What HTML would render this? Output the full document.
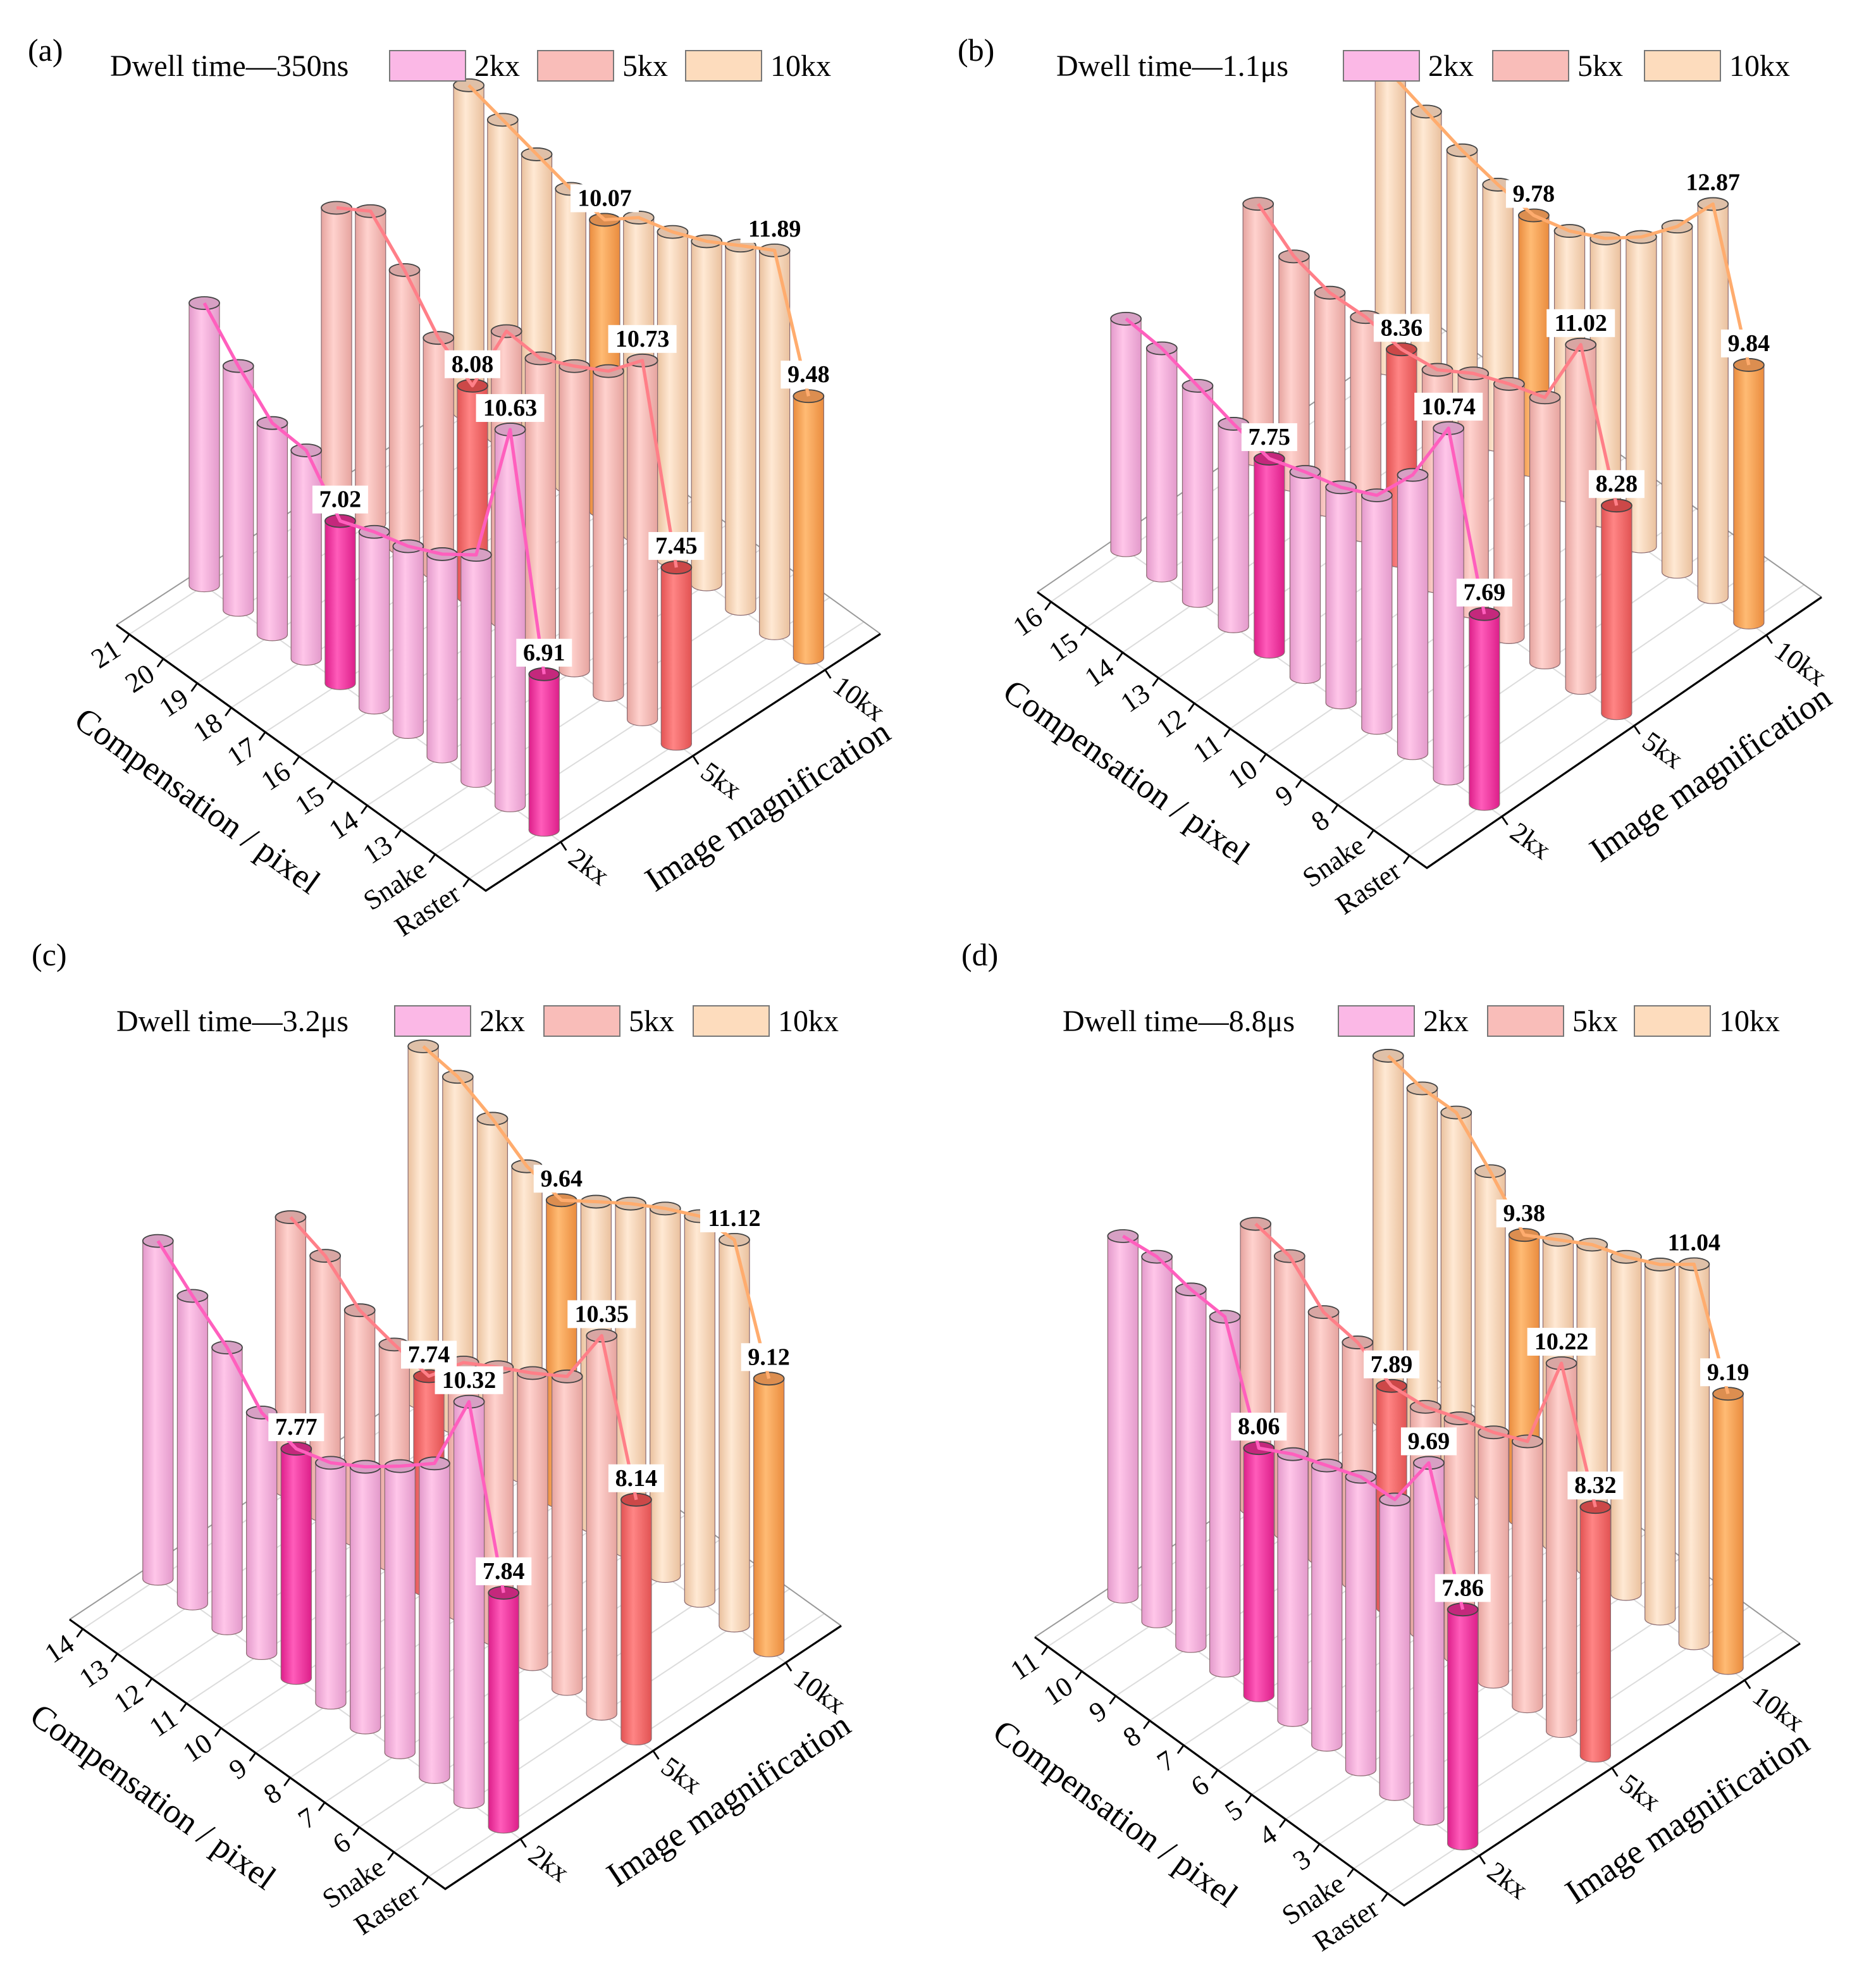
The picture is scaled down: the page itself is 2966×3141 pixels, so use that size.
<!DOCTYPE html>
<html><head><meta charset="utf-8"><style>
html,body{margin:0;padding:0;background:#fff;}
svg{display:block;font-family:"Liberation Serif",serif;}
svg text{font-family:"Liberation Serif",serif !important;}
</style></head><body>
<svg id="chart" xmlns="http://www.w3.org/2000/svg" width="2966" height="3141" viewBox="0 0 1483 1570.5">
<defs id="defs"></defs>
</svg>
<script>
const magCategories = ['2kx','5kx','10kx'];
const compTicksA = ['21','20','19','18','17','16','15','14','13','Snake','Raster'];
const compTicksB = ['16','15','14','13','12','11','10','9','8','Snake','Raster'];
const compTicksC = ['14','13','12','11','10','9','8','7','6','Snake','Raster'];
const compTicksD = ['11','10','9','8','7','6','5','4','3','Snake','Raster'];
const dwellLabels = ['350ns','1.1μs','3.2μs','8.8μs'];
const valsA2k = [9.05,8.40,7.85,7.80,7.02,7.25,7.42,7.70,8.10,10.63,6.91];
const valsA5k = [9.52,9.90,9.28,8.50,8.08,9.50,9.45,9.75,10.10,10.73,7.45];
const valsA10k = [10.8,10.6,10.4,10.2,10.07,10.6,10.8,11.1,11.5,11.89,9.48];
const valsB2k = [8.48,8.40,8.17,7.93,7.75,7.98,8.17,8.50,9.37,10.74,7.69];
const valsB5k = [9.25,8.70,8.48,8.50,8.36,8.46,8.90,9.20,9.44,11.02,8.28];
const valsB10k = [10.7,10.4,10.1,9.9,9.78,10.0,10.4,11.0,11.8,12.87,9.84];
const valsC2k = [9.39,8.94,8.54,7.94,7.77,7.93,8.24,8.62,9.03,10.32,7.84];
const valsC5k = [8.69,8.47,8.00,7.85,7.74,8.35,8.67,8.97,9.31,10.35,8.14];
const valsC10k = [10.6,10.5,10.2,9.8,9.64,10.05,10.45,10.8,11.1,11.12,9.12];
const valsD2k = [9.76,9.82,9.70,9.66,8.06,8.34,8.54,8.74,8.77,9.69,7.86];
const valsD5k = [8.90,8.78,8.28,8.19,7.89,7.95,8.16,8.33,8.58,10.22,8.32];
const valsD10k = [10.8,10.66,10.67,10.07,9.38,9.73,10.08,10.3,10.6,11.04,9.19];
const labeledIdx = [4,9,10];
const highlightIdx = [4,10];

const NS='http://www.w3.org/2000/svg';
const svg=document.getElementById('chart');
const defs=document.getElementById('defs');
function mk(tag,attrs,parent){const e=document.createElementNS(NS,tag);for(const k in attrs)e.setAttribute(k,attrs[k]);if(tag==='text')e.setAttribute('style','font-family:"Liberation Serif",serif');(parent||svg).appendChild(e);return e;}

const palette={
 n0:['#ffc6e9','#e39acb','#d7a0c4'],h0:['#ff5cba','#dd1f8a','#c4287c'],
 n1:['#ffd2ce','#e6a49f','#d8a6a3'],h1:['#ff8585','#e25353','#cc4848'],
 n2:['#ffe9d4','#eac19e','#dfc0a8'],h2:['#ffbb74','#ea8c3e','#dc8e50']};
for(const k in palette){
 const g=mk('linearGradient',{id:'g-'+k,x1:'0',x2:'1',y1:'0',y2:'0'},defs);
 mk('stop',{offset:'0','stop-color':palette[k][1]},g);
 mk('stop',{offset:'0.4','stop-color':palette[k][0]},g);
 mk('stop',{offset:'1','stop-color':palette[k][1]},g);
}
const lineColors=['#ff5fbd','#ff7f88','#ffac6e'];
const swatch=['#fbb8e6','#f9bdb9','#fddcbd'];
const rowScale=[1,0.94,0.85];

const panels=[
 {letter:'(a)',lp:[22,48],legX:87,legY:60,boxes:[308,425,542],ticks:compTicksA,vals:[valsA2k,valsA5k,valsA10k],P0:[92,494],C:[384,704],M1:[696,501],k:46.8,z0:4.28,r:12},
 {letter:'(b)',lp:[757,48],legX:835,legY:60,boxes:[1062,1180,1300],ticks:compTicksB,vals:[valsB2k,valsB5k,valsB10k],P0:[820,468],C:[1128,686],M1:[1440,472],k:41.6,z0:4.08,r:12},
 {letter:'(c)',lp:[25,763],legX:92,legY:815,boxes:[312,430,548],ticks:compTicksC,vals:[valsC2k,valsC5k,valsC10k],P0:[55,1280],C:[352,1493],M1:[665,1285],k:53,z0:4.35,r:12},
 {letter:'(d)',lp:[760,763],legX:840,legY:815,boxes:[1058,1176,1292],ticks:compTicksD,vals:[valsD2k,valsD5k,valsD10k],P0:[818,1294],C:[1110,1506],M1:[1423,1299],k:52.7,z0:4.35,r:12}
];

function fsOf(s){return 0.035+0.092*s;}
function fmOf(t){return 0.19+0.335*t;}
function floorPt(p,fs,fm){
 return [p.C[0]+(p.P0[0]-p.C[0])*(1-fs)+(p.M1[0]-p.C[0])*fm, p.C[1]+(p.P0[1]-p.C[1])*(1-fs)+(p.M1[1]-p.C[1])*fm];}
function baseXY(p,s,t){return floorPt(p,fsOf(s),fmOf(t));}
function topY(p,base,v,t){return base[1]-(v-p.z0)*p.k*rowScale[t];}

panels.forEach((p,pi)=>{
 const g=mk('g',{});
 
 
 const fl=mk('g',{},g);
 
 
 const mv=[p.M1[0]-p.C[0],p.M1[1]-p.C[1]], cv=[p.P0[0]-p.C[0],p.P0[1]-p.C[1]];
 p.ticks.forEach((tk,s)=>{
  const a=floorPt(p,fsOf(s),0);
  mk('line',{x1:a[0],y1:a[1],x2:a[0]+mv[0],y2:a[1]+mv[1],stroke:'#dcdcdc','stroke-width':1},fl);
 });
 magCategories.forEach((m,t)=>{
  const a=floorPt(p,1,fmOf(t));
  mk('line',{x1:a[0],y1:a[1],x2:a[0]+cv[0],y2:a[1]+cv[1],stroke:'#dcdcdc','stroke-width':1},fl);
 });
 mk('line',{x1:p.P0[0],y1:p.P0[1],x2:p.P0[0]+mv[0],y2:p.P0[1]+mv[1],stroke:'#999','stroke-width':1},fl);
 mk('line',{x1:p.M1[0],y1:p.M1[1],x2:p.M1[0]+cv[0],y2:p.M1[1]+cv[1],stroke:'#999','stroke-width':1},fl);
 const ax=mk('g',{},g);
 
 
 mk('polyline',{points:`${p.P0[0]},${p.P0[1]} ${p.C[0]},${p.C[1]} ${p.M1[0]},${p.M1[1]}`,fill:'none',stroke:'#000','stroke-width':1.6},ax);
 const clen=Math.hypot(cv[0],cv[1]), mlen=Math.hypot(mv[0],mv[1]);
 const cdir=[-cv[0]/clen,-cv[1]/clen];
 const cnorm=[-cdir[1],cdir[0]];
 const mdir=[mv[0]/mlen,mv[1]/mlen]; const mnorm=[-mdir[1],mdir[0]];
 const cang=Math.atan2(cdir[1],cdir[0])*180/Math.PI;
 const mang=Math.atan2(mdir[1],mdir[0])*180/Math.PI;
 p.ticks.forEach((tk,s)=>{
  const a=floorPt(p,fsOf(s),0);
  mk('line',{x1:a[0],y1:a[1],x2:a[0]+cnorm[0]*8,y2:a[1]+cnorm[1]*8,stroke:'#000','stroke-width':1.4},ax);
  const lx=a[0]+cnorm[0]*14, ly=a[1]+cnorm[1]*14;
  const t=mk('text',{x:lx,y:ly,'font-size':22,'text-anchor':'end','dominant-baseline':'middle',transform:`rotate(${mang} ${lx} ${ly})`,fill:'#000'},ax);
  t.textContent=tk;
  
  
 });
 magCategories.forEach((m,ti)=>{
  const a=floorPt(p,1,fmOf(ti));
  mk('line',{x1:a[0],y1:a[1],x2:a[0]+mnorm[0]*8,y2:a[1]+mnorm[1]*8,stroke:'#000','stroke-width':1.4},ax);
  const lx=a[0]+mnorm[0]*14, ly=a[1]+mnorm[1]*14;
  const t=mk('text',{x:lx,y:ly,'font-size':22,'text-anchor':'start','dominant-baseline':'middle',transform:`rotate(${cang} ${lx} ${ly})`,fill:'#000'},ax);
  t.textContent=m;
  
  
 });
 {const f=0.37; const bx=p.P0[0]+(p.C[0]-p.P0[0])*f+cnorm[0]*78, by=p.P0[1]+(p.C[1]-p.P0[1])*f+cnorm[1]*78;
  const t=mk('text',{x:bx,y:by,'font-size':27,'text-anchor':'middle','dominant-baseline':'middle',transform:`rotate(${cang} ${bx} ${by})`,fill:'#000'},ax);
  t.textContent='Compensation / pixel';
  
  }
 {const f=0.6; const bx=p.C[0]+mv[0]*f+mnorm[0]*68, by=p.C[1]+mv[1]*f+mnorm[1]*68;
  const t=mk('text',{x:bx,y:by,'font-size':27,'text-anchor':'middle','dominant-baseline':'middle',transform:`rotate(${mang} ${bx} ${by})`,fill:'#000'},ax);
  t.textContent='Image magnification';
  
  }
 const labels=[];
 for(let t=2;t>=0;t--){
  const vals=p.vals[t];
  const rg=mk('g',{},g);
  
  
  const tops=[];
  vals.forEach((v,s)=>{
   const b=baseXY(p,s,t); const ty=topY(p,b,v,t);
   tops.push([b[0],ty]);
   const key=(highlightIdx.includes(s)?'h':'n')+t;
   const cg=mk('g',{},rg);
   
   
   const r=p.r, ry=5;
   mk('ellipse',{cx:b[0],cy:b[1],rx:r,ry:ry,fill:'url(#g-'+key+')',stroke:'#8a6a70','stroke-width':0.6},cg);
   mk('rect',{x:b[0]-r,y:ty,width:2*r,height:Math.max(0,b[1]-ty),fill:'url(#g-'+key+')'},cg);
   mk('line',{x1:b[0]-r,y1:ty,x2:b[0]-r,y2:b[1],stroke:'#8a6a70','stroke-width':0.6},cg);
   mk('line',{x1:b[0]+r,y1:ty,x2:b[0]+r,y2:b[1],stroke:'#8a6a70','stroke-width':0.6},cg);
   mk('ellipse',{cx:b[0],cy:ty,rx:r,ry:ry,fill:palette[key][2],stroke:'#444','stroke-width':0.9},cg);
   if(labeledIdx.includes(s)) labels.push([b[0],ty,v]);
  });
  const pl=mk('polyline',{points:tops.map(q=>q[0]+','+q[1]).join(' '),fill:'none',stroke:lineColors[t],'stroke-width':2.6,'stroke-linejoin':'round'},rg);
  
  
 }
 labels.forEach(l=>{
  const txt=l[2].toFixed(2);
  const w=txt.length*10+4, h=22;
  const lg2=mk('g',{},g);
  
  
  mk('rect',{x:l[0]-w/2,y:l[1]-h-6,width:w,height:h,fill:'#fff'},lg2);
  const t=mk('text',{x:l[0],y:l[1]-11,'font-size':19,'font-weight':'bold','text-anchor':'middle',fill:'#000'},lg2);
  t.textContent=txt;
 });
 const lt=mk('text',{x:p.lp[0],y:p.lp[1],'font-size':25,fill:'#000'},g);
 lt.textContent=p.letter;
 
 
 const lg=mk('g',{},g);
 
 
 const tt=mk('text',{x:p.legX,y:p.legY,'font-size':24,fill:'#000'},lg);
 tt.textContent='Dwell time—'+dwellLabels[pi];
 
 
 magCategories.forEach((m,i)=>{
  const bx=p.boxes[i];
  const r=mk('rect',{x:bx,y:p.legY-20,width:60,height:24,fill:swatch[i],stroke:'#777','stroke-width':1},lg);
  
  
  const tx=mk('text',{x:bx+67,y:p.legY,'font-size':24,fill:'#000'},lg);
  tx.textContent=m;
  
  
 });
});
</script>
</body></html>
